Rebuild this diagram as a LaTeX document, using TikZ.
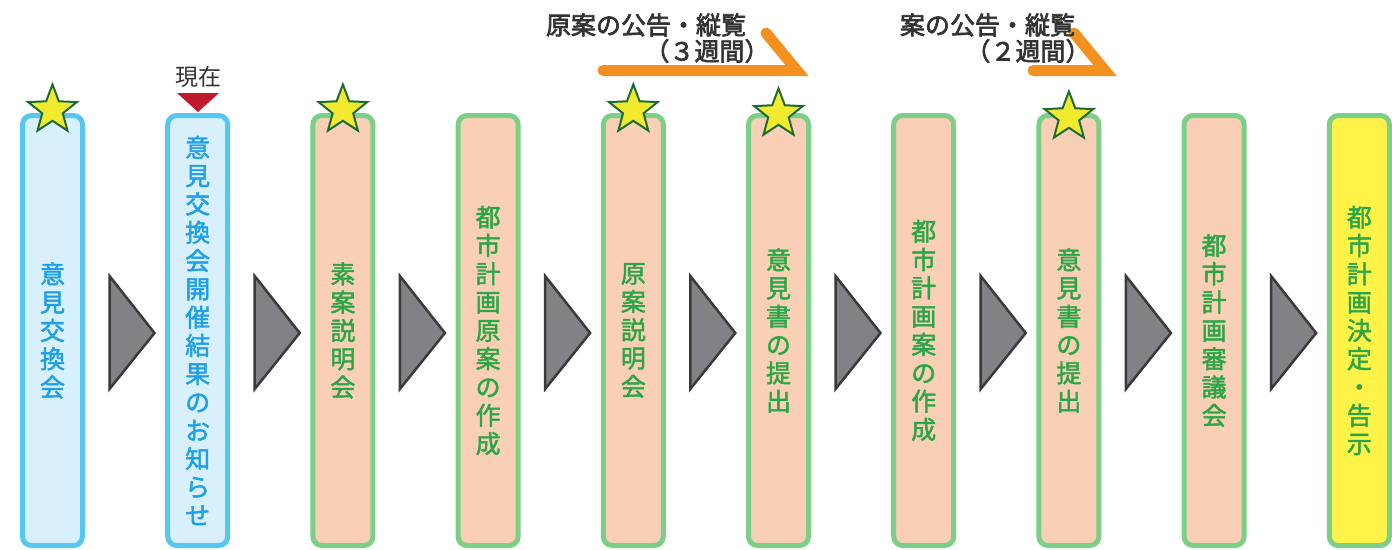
\documentclass[tikz,border=0pt]{standalone}
\usepackage{fontspec}
\setmainfont{Noto Sans CJK JP}
\newfontfamily\medfont{Noto Sans CJK JP}[FakeBold=1.8]
\newfontfamily\semifont{Noto Sans CJK JP}[FakeBold=2.6]
\usetikzlibrary{shapes.geometric}
\definecolor{bfill}{HTML}{D8F0FB}
\definecolor{bline}{HTML}{57C7F2}
\definecolor{btext}{HTML}{1EA0E6}
\definecolor{pfill}{HTML}{F9D0B5}
\definecolor{gline}{HTML}{7CCF86}
\definecolor{gtext}{HTML}{2AA548}
\definecolor{yfill}{HTML}{FFF34A}
\definecolor{starfill}{HTML}{F2EA2E}
\definecolor{starline}{HTML}{1D6B30}
\definecolor{trifill}{HTML}{808285}
\definecolor{triline}{HTML}{3A3A3A}
\definecolor{redmark}{HTML}{C0182D}
\definecolor{orangebar}{HTML}{F29120}
\definecolor{darktext}{HTML}{333333}
\begin{document}
\begin{tikzpicture}[x=1pt,y=-1pt,
  box/.style={rectangle, rounded corners=9pt, line width=5pt, minimum width=60pt,
    minimum height=430pt, inner sep=0pt, align=center,
    font=\fontsize{25}{28.3}\selectfont\medfont},
  bluebox/.style={box, draw=bline, fill=bfill, text=btext},
  peachbox/.style={box, draw=gline, fill=pfill, text=gtext},
  yellowbox/.style={box, draw=gline, fill=yfill, text=gtext},
  tri/.style={fill=trifill, draw=triline, line width=2.5pt, line join=miter},
  starstyle/.style={fill=starfill, draw=starline, line width=2pt, line join=miter},
  starpic/.pic={\draw[starstyle] (-90:25.5) -- (-54:10.8) -- (-18:25.5) -- (18:10.8)
     -- (54:25.5) -- (90:10.8) -- (126:25.5) -- (162:10.8) -- (198:25.5) -- (234:10.8) -- cycle;},
  bar/.style={draw=orangebar, line width=11pt, line cap=round, line join=miter},
  toplabel/.style={inner sep=0pt, text=darktext, font=\fontsize{25}{28}\selectfont\semifont}
]
\useasboundingbox (0,0) rectangle (1392,549);
\fill[white] (0,0) rectangle (1392,549);

% boxes
\node[bluebox]   (b1)  at (52.5,330.5)  {意\\見\\交\\換\\会};
\node[bluebox]   (b2)  at (197.7,330.5) {意\\見\\交\\換\\会\\開\\催\\結\\果\\の\\お\\知\\ら\\せ};
\node[peachbox]  (b3)  at (342.9,330.5) {素\\案\\説\\明\\会};
\node[peachbox]  (b4)  at (488.1,330.5) {都\\市\\計\\画\\原\\案\\の\\作\\成};
\node[peachbox]  (b5)  at (633.3,330.5) {原\\案\\説\\明\\会};
\node[peachbox]  (b6)  at (778.5,330.5) {意\\見\\書\\の\\提\\出};
\node[peachbox]  (b7)  at (923.7,330.5) {都\\市\\計\\画\\案\\の\\作\\成};
\node[peachbox]  (b8)  at (1068.9,330.5) {意\\見\\書\\の\\提\\出};
\node[peachbox]  (b9)  at (1214.1,330.5) {都\\市\\計\\画\\審\\議\\会};
\node[yellowbox] (b10) at (1359.3,330.5) {都\\市\\計\\画\\決\\定\\・\\告\\示};

% triangles between boxes
\foreach \i in {0,...,8} {
  \pgfmathsetmacro{\xa}{109.5+145.2*\i}
  \pgfmathsetmacro{\xb}{\xa+45}
  \draw[tri] (\xa,276) -- (\xb,333) -- (\xa,389) -- cycle;
}

% stars
\pic (s1) at (52.5,110) {starpic};
\pic (s3) at (342.9,110) {starpic};
\pic (s5) at (633.3,110) {starpic};
\pic (s6) at (778.5,114) {starpic};
\pic (s8) at (1068.9,117) {starpic};

% current marker
\fill[redmark] (177,93) -- (219,93) -- (198,112) -- cycle;
\node[inner sep=0pt, text=darktext, font=\fontsize{23}{26}\selectfont] (now) at (198,77) {現在};

% orange bars
\draw[bar] (603,70.5) -- (797,70.5) -- (766,33);
\draw[bar] (1033,70.5) -- (1105,70.5) -- (1074,33);

% top labels
\node[toplabel] (t1) at (646,25) {原案の公告・縦覧};
\node[toplabel] (t2) at (707,51) {（３週間）};
\node[toplabel] (t3) at (987.5,25) {案の公告・縦覧};
\node[toplabel] (t4) at (1028,51) {（２週間）};
\end{tikzpicture}
\end{document}
